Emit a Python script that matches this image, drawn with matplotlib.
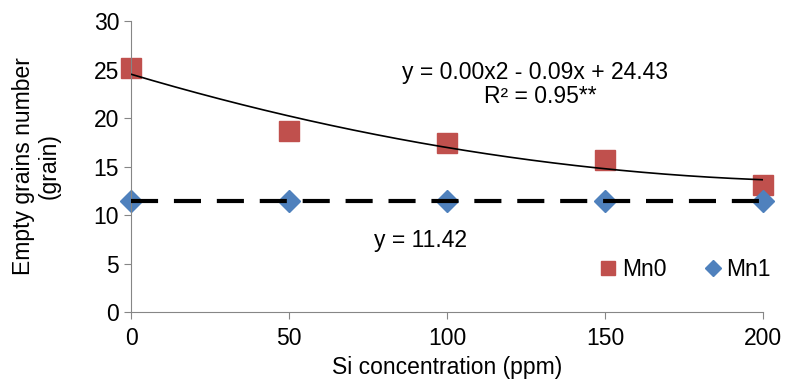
import numpy as np
import matplotlib
matplotlib.use('Agg')
import matplotlib.pyplot as plt

plt.rcParams['font.family'] = ['Liberation Sans', 'DejaVu Sans']

# 数据
si = [0, 50, 100, 150, 200]
mn0 = [25.2, 18.7, 17.4, 15.7, 13.1]
mn1 = [11.42, 11.42, 11.42, 11.42, 11.42]

fs = 16.5
fig = plt.figure(figsize=(7.87, 3.9), dpi=100)
ax = fig.add_axes([0.1665, 0.2, 0.803, 0.746])

ax.plot(si, mn0, 's', color='#C0504D', ms=14, label='Mn0', zorder=2, clip_on=False)
ax.plot(si, mn1, 'D', color='#4F81BD', ms=11.5, label='Mn1', zorder=2, clip_on=False)

# 趋势线
coef = np.polyfit(si, mn0, 2)
xs = np.linspace(0, 200, 200)
ax.plot(xs, np.polyval(coef, xs), color='black', lw=1.2, zorder=3)
ax.plot([si[0], si[-1]], [np.mean(mn1)] * 2, color='black', lw=3,
        dashes=(6.5, 3.8), zorder=3, clip_on=False)

ax.text(128, 24.7, 'y = 0.00x2 - 0.09x + 24.43', fontsize=fs, ha='center', va='center')
ax.text(129.5, 22.2, 'R² = 0.95**', fontsize=fs, ha='center', va='center')
ax.text(91.5, 7.4, 'y = 11.42', fontsize=fs, ha='center', va='center')

ax.set_xlim(0, 200)
ax.set_ylim(0, 30)
ax.set_xticks(si)
ax.set_yticks(range(0, 31, 5))
ax.tick_params(labelsize=fs, color='#868686', length=5)
ax.tick_params(axis='x', pad=6)
for s in ['top', 'right']:
    ax.spines[s].set_visible(False)
for s in ['left', 'bottom']:
    ax.spines[s].set_color('#868686')
ax.set_xlabel('Si concentration (ppm)', fontsize=fs, labelpad=4)
ax.set_ylabel('Empty grains number\n(grain)', fontsize=fs, labelpad=24, linespacing=1.15)

ax.legend(loc='lower right', bbox_to_anchor=(1.045, 0.035), ncol=2, frameon=False,
          fontsize=fs, handletextpad=0.0, columnspacing=1.4, handlelength=1.2,
          markerscale=0.75)

plt.savefig('out.png', dpi=100)
